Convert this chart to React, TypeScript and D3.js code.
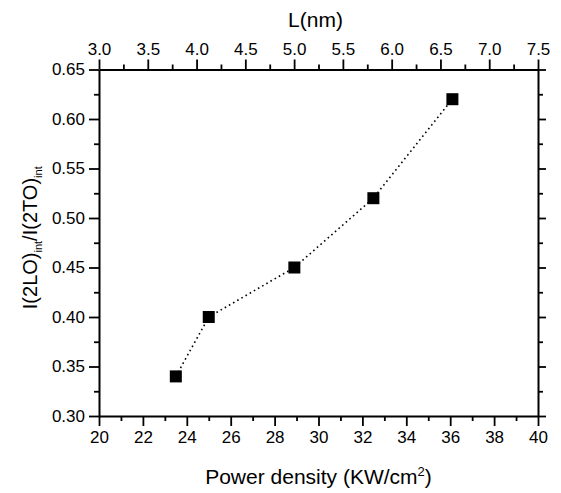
import React, { useRef, useEffect } from "react";
import { select, scaleLinear, line, axisBottom, axisLeft, axisTop, axisRight, range } from "d3";

// data
const powerDensity = [23.5, 25.0, 28.9, 32.5, 36.1];
const ratio = [0.34, 0.4, 0.45, 0.52, 0.62];

const xMajor = [20, 22, 24, 26, 28, 30, 32, 34, 36, 38, 40];
const yMajor = [0.3, 0.35, 0.4, 0.45, 0.5, 0.55, 0.6, 0.65];
const lMajor = [3.0, 3.5, 4.0, 4.5, 5.0, 5.5, 6.0, 6.5, 7.0, 7.5];

const W = 561;
const H = 493;
const margin = { left: 99, right: W - 538, top: 69.5, bottom: H - 416 };

function App() {
  const svgRef = useRef<SVGSVGElement>(null);

  useEffect(() => {
    const svg = select(svgRef.current);
    svg.selectAll("*").remove();

    const xScale = scaleLinear().domain([20, 40]).range([margin.left, W - margin.right]);
    const lScale = scaleLinear().domain([3.0, 7.5]).range([margin.left, W - margin.right]);
    const yScale = scaleLinear().domain([0.3, 0.65]).range([H - margin.bottom, margin.top]);

    const font = "'Liberation Sans', Arial, sans-serif";
    const bottomY = H - margin.bottom;
    const rightX = W - margin.right;

    // minor ticks first
    const xMinor = range(21, 40, 2);
    const yMinor = range(0.325, 0.65, 0.05);
    const lMinor = range(3.25, 7.5, 0.5);

    const styleAxis = (g) => {
      g.selectAll(".domain").attr("stroke", "#000").attr("stroke-width", 2);
      g.selectAll(".tick line").attr("stroke", "#000").attr("stroke-width", 1.8);
      g.selectAll(".tick text")
        .attr("fill", "#000")
        .style("font-family", font)
        .style("font-size", "17px");
    };

    const minor = (gen, tx, ty, values) => {
      const g = svg.append("g").attr("transform", `translate(${tx},${ty})`);
      g.call(gen.tickValues(values).tickSize(5).tickSizeOuter(0).tickFormat(() => ""));
      styleAxis(g);
      g.select(".domain").remove();
    };
    minor(axisBottom(xScale), 0, bottomY, xMinor);
    minor(axisTop(lScale), 0, margin.top, lMinor);
    minor(axisLeft(yScale), margin.left, 0, yMinor);
    minor(axisRight(yScale), rightX, 0, yMinor);

    // major axes
    const gx = svg.append("g").attr("transform", `translate(0,${bottomY})`);
    gx.call(axisBottom(xScale).tickValues(xMajor).tickSize(10).tickSizeOuter(0).tickPadding(5).tickFormat((d) => String(d)));
    styleAxis(gx);

    const gt = svg.append("g").attr("transform", `translate(0,${margin.top})`);
    gt.call(axisTop(lScale).tickValues(lMajor).tickSize(10).tickSizeOuter(0).tickPadding(5).tickFormat((d) => (+d).toFixed(1)));
    styleAxis(gt);

    const gy = svg.append("g").attr("transform", `translate(${margin.left},0)`);
    gy.call(axisLeft(yScale).tickValues(yMajor).tickSize(10).tickSizeOuter(0).tickPadding(4).tickFormat((d) => (+d).toFixed(2)));
    styleAxis(gy);

    const gr = svg.append("g").attr("transform", `translate(${rightX},0)`);
    gr.call(axisRight(yScale).tickValues(yMajor).tickSize(8).tickSizeOuter(0).tickFormat(() => ""));
    styleAxis(gr);

    // data line + markers
    const pts = powerDensity.map((p, i) => [p, ratio[i]]);
    const lineGenerator = line()
      .x((d) => xScale(d[0]))
      .y((d) => yScale(d[1]));

    svg
      .append("path")
      .datum(pts)
      .attr("fill", "none")
      .attr("stroke", "#000")
      .attr("stroke-width", 1.6)
      .attr("stroke-dasharray", "1.6,3.2")
      .attr("d", lineGenerator);

    svg
      .selectAll(".pt")
      .data(pts)
      .join("rect")
      .attr("class", "pt")
      .attr("x", (d) => xScale(d[0]) - 6)
      .attr("y", (d) => yScale(d[1]) - 6)
      .attr("width", 12)
      .attr("height", 12)
      .attr("fill", "#000");

    // titles
    const midX = (margin.left + rightX) / 2;
    svg
      .append("text")
      .attr("x", midX)
      .attr("y", 484)
      .attr("text-anchor", "middle")
      .style("font-family", font)
      .style("font-size", "21px")
      .html('Power density (KW/cm<tspan dy="-8" font-size="13px">2</tspan><tspan dy="8">)</tspan>');

    svg
      .append("text")
      .attr("x", midX - 3)
      .attr("y", 27)
      .attr("text-anchor", "middle")
      .style("font-family", font)
      .style("font-size", "21px")
      .text("L(nm)");

    svg
      .append("text")
      .attr("transform", `translate(37,${(margin.top + bottomY) / 2 - 5}) rotate(-90)`)
      .attr("text-anchor", "middle")
      .style("font-family", font)
      .style("font-size", "20px")
      .html(
        'I(2LO)<tspan dy="5" font-size="11px">int</tspan><tspan dy="-5">/I(2TO)</tspan><tspan dy="5" font-size="11px">int</tspan>'
      );
  }, []);

  return (
    <div style={{ position: "absolute", left: 0, top: 0, background: "#fff" }}>
      <svg ref={svgRef} width={W} height={H} style={{ display: "block" }} />
    </div>
  );
}

export default App;
